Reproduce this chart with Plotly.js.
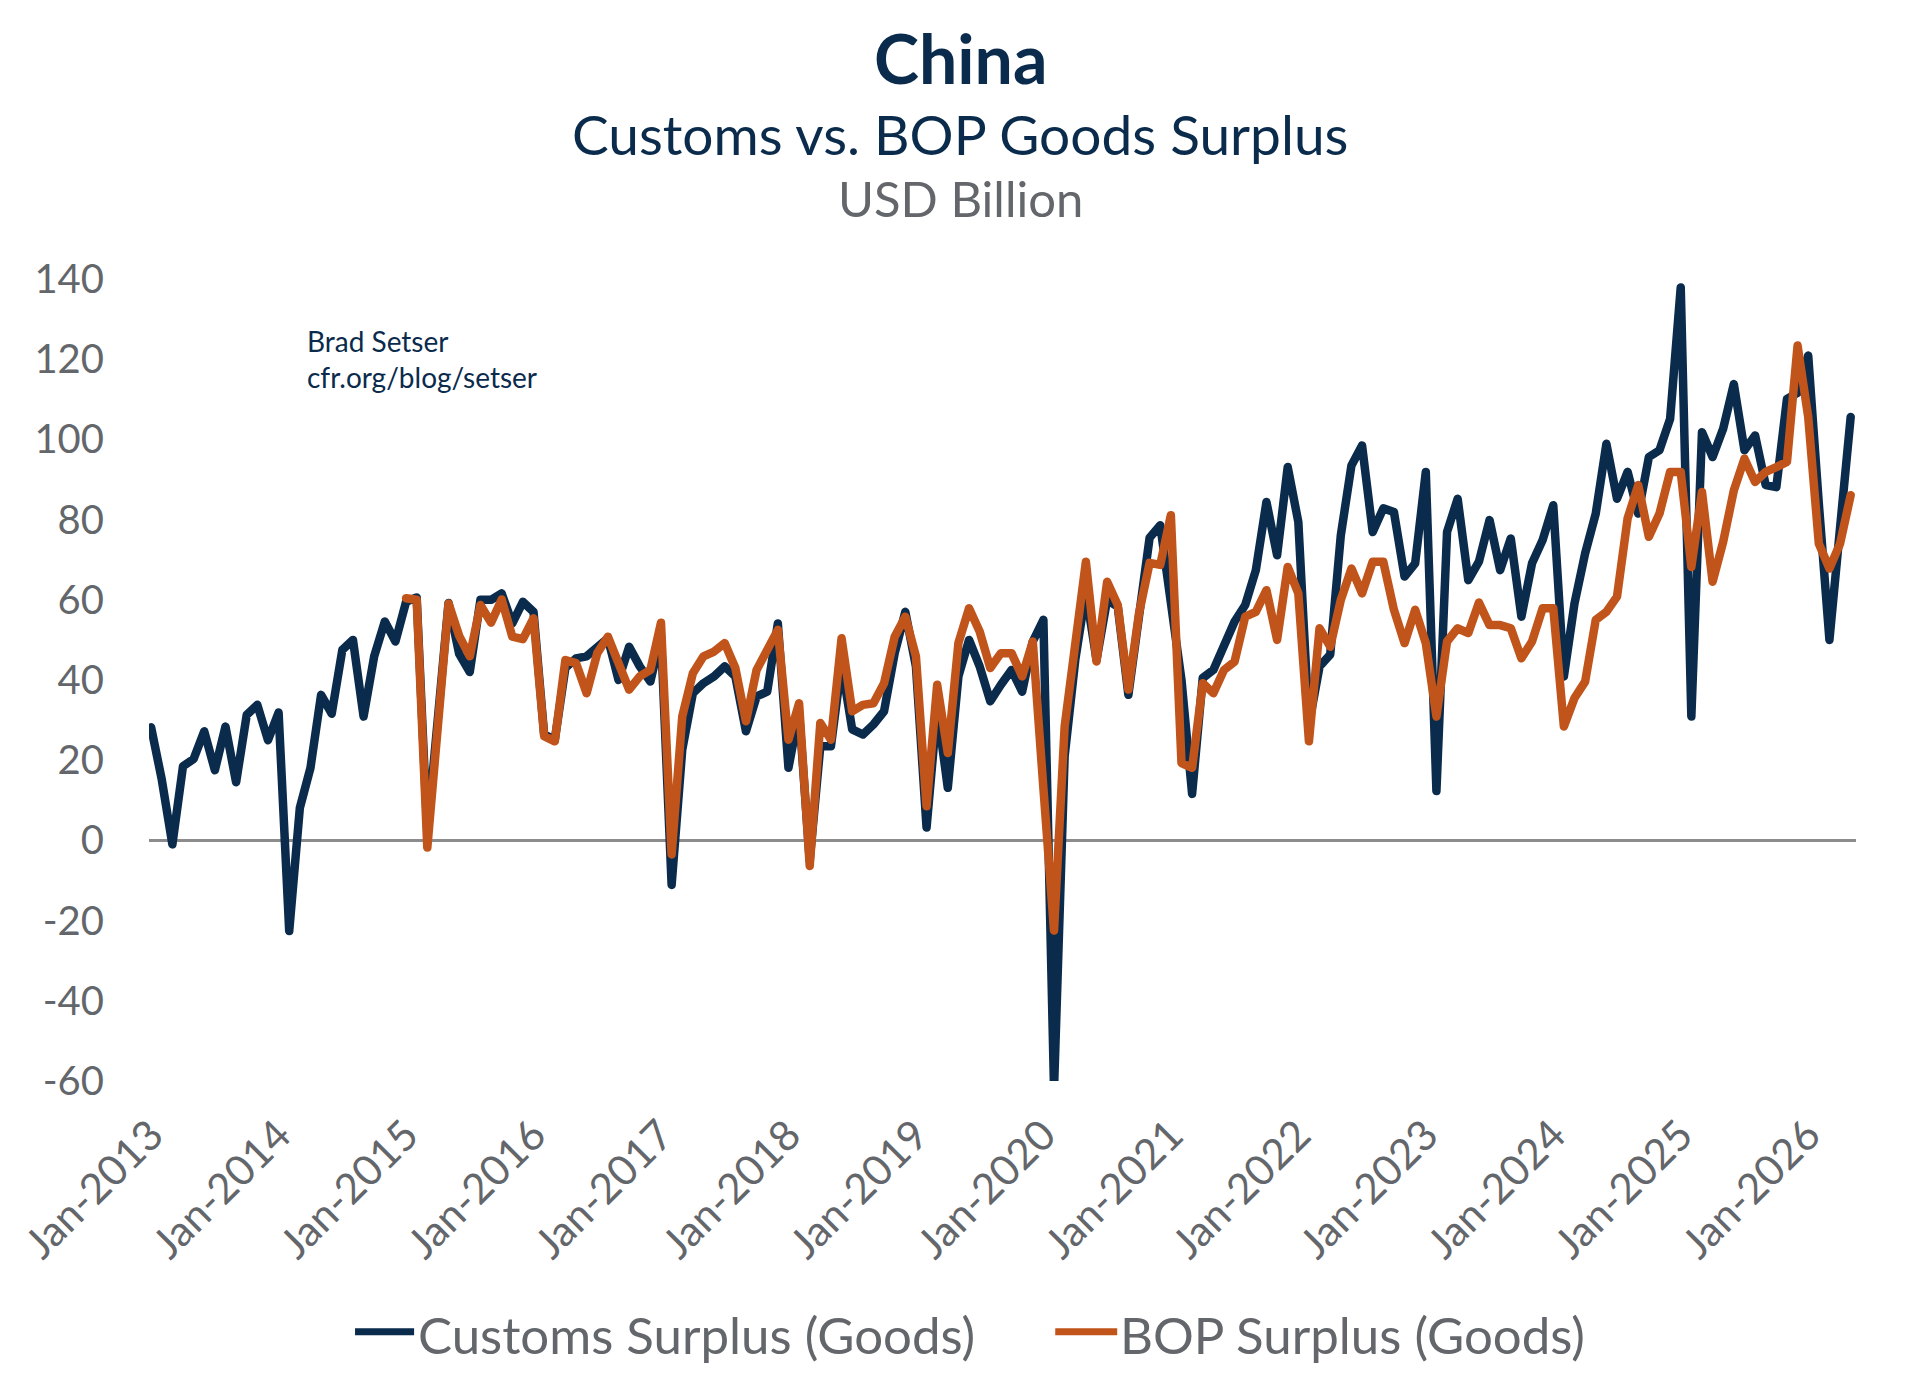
<!DOCTYPE html>
<html>
<head>
<meta charset="utf-8">
<script src="https://cdn.plot.ly/plotly-3.0.1.min.js"></script>
<style>
  html, body { margin: 0; padding: 0; background: #ffffff; }
  #chart { width: 1920px; height: 1393px; }
  #chart path.js-line { stroke-linejoin: round; stroke-linecap: round; }
</style>
</head>
<body>
<div id="chart"></div>
<script>
// ---- Data (USD billion, monthly from Jan-2013) ----
const monthNames = ['Jan','Feb','Mar','Apr','May','Jun','Jul','Aug','Sep','Oct','Nov','Dec'];
const years = [2013, 2014, 2015, 2016, 2017, 2018, 2019, 2020, 2021, 2022, 2023, 2024, 2025, 2026];

const customsSurplus = [
  28.2, 15.2, -1.0, 18.5, 20.3, 27.2, 17.5, 28.4, 14.5, 31.3, 33.8, 25.0,
  31.9, -22.6, 8.1, 18.1, 36.3, 31.6, 47.5, 50.0, 30.9, 45.9, 54.6, 49.6,
  59.5, 60.6, 2.0, 32.0, 59.2, 46.5, 42.0, 60.0, 60.0, 61.6, 54.1, 59.5,
  57.0, 26.5, 25.0, 43.0, 45.4, 45.9, 48.3, 50.4, 40.0, 48.3, 43.4, 39.6,
  51.0, -11.1, 22.6, 36.7, 39.2, 40.9, 43.4, 40.9, 27.2, 35.9, 37.1, 54.1,
  18.1, 32.0, -5.0, 23.5, 23.5, 44.0, 27.7, 26.4, 28.9, 32.2, 46.7, 57.0,
  43.4, 3.2, 33.0, 13.1, 40.9, 50.0, 43.4, 34.7, 38.8, 42.5, 37.1, 49.6,
  55.0, -62.0, 21.0, 45.0, 62.0, 45.0, 60.0, 58.3, 36.3, 55.0, 75.5, 78.6,
  58.0, 40.0, 11.6, 40.5, 42.5, 49.2, 54.6, 58.7, 67.4, 84.4, 71.1, 93.1,
  79.4, 29.0, 43.4, 46.3, 76.1, 93.5, 98.5, 76.9, 82.8, 81.9, 65.8, 69.1,
  91.9, 12.3, 76.9, 85.2, 64.9, 69.5, 79.9, 67.4, 75.3, 55.8, 69.1, 74.9,
  83.6, 40.9, 59.1, 71.6, 81.5, 98.9, 85.2, 91.9, 81.5, 95.6, 97.3, 105.1,
  137.9, 30.9, 101.8, 95.6, 102.7, 113.8, 97.3, 101.0, 88.6, 88.1, 110.1, 111.6,
  120.9, 84.0, 50.0, 78.0, 105.6
];

const bopSurplus = [
  null, null, null, null, null, null, null, null, null, null, null, null,
  null, null, null, null, null, null, null, null, null, null, null, null,
  60.4, 60.0, -1.8, 28.0, 59.1, 51.0, 45.9, 58.7, 54.3, 60.1, 50.8, 50.2,
  55.4, 26.0, 24.7, 45.0, 44.2, 36.7, 46.7, 50.8, 44.2, 37.6, 40.9, 42.5,
  54.3, -3.5, 30.9, 41.7, 45.9, 47.1, 49.2, 43.0, 29.7, 42.5, 47.5, 52.5,
  25.1, 34.2, -6.4, 29.3, 25.1, 50.4, 32.2, 33.8, 34.2, 39.2, 50.8, 55.8,
  45.9, 8.5, 38.8, 21.8, 49.2, 57.9, 52.1, 43.0, 46.7, 46.7, 40.9, 49.6,
  13.0, -22.5, 28.4, 48.0, 69.5, 44.6, 64.5, 58.7, 37.6, 56.6, 69.2, 68.7,
  81.1, 19.3, 18.1, 39.2, 36.7, 42.5, 44.6, 55.8, 57.0, 62.4, 50.0, 68.2,
  61.6, 24.7, 52.9, 48.3, 60.0, 67.8, 61.6, 69.5, 69.5, 57.5, 49.2, 57.5,
  49.2, 30.9, 49.6, 52.9, 51.7, 59.3, 53.7, 53.7, 52.9, 45.4, 49.6, 57.9,
  57.9, 28.4, 35.5, 39.6, 55.0, 57.0, 60.8, 80.3, 88.6, 75.7, 81.5, 91.9,
  91.9, 68.2, 86.9, 64.5, 74.5, 87.3, 95.2, 89.4, 91.9, 93.1, 94.4, 123.4,
  105.6, 74.0, 67.8, 74.0, 86.1
];

const yTickValues = [-60, -40, -20, 0, 20, 40, 60, 80, 100, 120, 140];
const yTickLabels = ['-60', '-40', '-20', '0', '20', '40', '60', '80', '100', '120', '140'];
const seriesNames = ['Customs Surplus (Goods)', 'BOP Surplus (Goods)'];

// ---- Category labels built from month/year lists ----
const categories = [];
years.forEach(y => monthNames.forEach(m => categories.push(m + '-' + y)));
const months = categories.slice(0, customsSurplus.length);
const xTickLabels = years.map(y => 'Jan-' + y);

// ---- Style ----
const navy = '#0a2b4c';
const orange = '#c1541a';
const grey = '#63666a';
const fontFamily = 'Lato, "Open Sans", sans-serif';
const lineWidth = 8.5;

const traces = [
  {
    x: months, y: customsSurplus, name: seriesNames[0],
    type: 'scatter', mode: 'lines',
    line: { color: navy, width: lineWidth },
    hoverinfo: 'skip', showlegend: false
  },
  {
    x: months, y: bopSurplus, name: seriesNames[1],
    type: 'scatter', mode: 'lines',
    line: { color: orange, width: lineWidth },
    connectgaps: false,
    hoverinfo: 'skip', showlegend: false
  }
];

// legend drawn as paper-referenced key (line swatch + label)
const legendY = -0.3167;
const legendItems = [
  { x0: 0.1207, x1: 0.1553, tx: 0.1568, color: navy, label: seriesNames[0] },
  { x0: 0.5309, x1: 0.5672, tx: 0.5680, color: orange, label: seriesNames[1] }
];

const shapes = legendItems.map(it => ({
  type: 'line', xref: 'paper', yref: 'paper',
  x0: it.x0, x1: it.x1, y0: legendY + 0.004, y1: legendY + 0.004,
  line: { color: it.color, width: 7 }
}));

const annotations = [
  { text: '<b>China</b>', xref: 'paper', yref: 'paper', x: 0.4752, y: 1.2762,
    xanchor: 'center', yanchor: 'middle', showarrow: false,
    font: { family: fontFamily, size: 68, color: navy } },
  { text: 'Customs vs. BOP Goods Surplus', xref: 'paper', yref: 'paper', x: 0.4752, y: 1.1814,
    xanchor: 'center', yanchor: 'middle', showarrow: false,
    font: { family: fontFamily, size: 55, color: navy } },
  { text: 'USD Billion', xref: 'paper', yref: 'paper', x: 0.4752, y: 1.1016,
    xanchor: 'center', yanchor: 'middle', showarrow: false,
    font: { family: fontFamily, size: 49, color: grey } },
  { text: 'Brad Setser<br>cfr.org/blog/setser', xref: 'paper', yref: 'paper', x: 0.0915, y: 0.90,
    xanchor: 'left', yanchor: 'middle', align: 'left', showarrow: false,
    font: { family: fontFamily, size: 28, color: navy } }
].concat(legendItems.map(it => ({
  text: it.label, xref: 'paper', yref: 'paper', x: it.tx, y: legendY,
  xanchor: 'left', yanchor: 'middle', showarrow: false, borderpad: 0,
  font: { family: fontFamily, size: 51, color: grey }
})));

const layout = {
  width: 1920, height: 1393,
  paper_bgcolor: '#ffffff', plot_bgcolor: '#ffffff',
  margin: { l: 149, r: 64, t: 279, b: 312 },
  font: { family: fontFamily, color: grey },
  showlegend: false,
  xaxis: {
    type: 'category',
    range: [-0.2, 160.5],
    tickmode: 'array', tickvals: xTickLabels, ticktext: xTickLabels,
    tickangle: -45,
    tickfont: { family: fontFamily, size: 42, color: grey },
    showgrid: false, showline: false, zeroline: false, ticks: '',
    ticklabelstandoff: 20
  },
  yaxis: {
    range: [-60, 140],
    tickmode: 'array', tickvals: yTickValues, ticktext: yTickLabels,
    tickfont: { family: fontFamily, size: 40, color: grey },
    showgrid: false, showline: false,
    zeroline: true, zerolinecolor: '#8c8c8c', zerolinewidth: 2.5,
    ticks: '', ticklabelstandoff: 44
  },
  shapes: shapes,
  annotations: annotations
};

Plotly.newPlot('chart', traces, layout, { displayModeBar: false, staticPlot: true });
</script>
</body>
</html>
